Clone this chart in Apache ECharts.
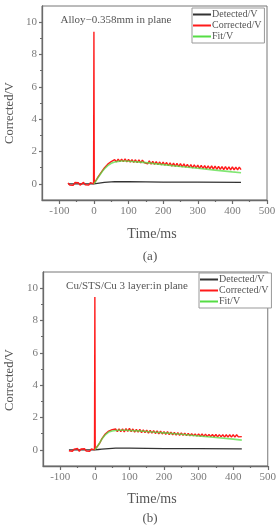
<!DOCTYPE html>
<html>
<head>
    <meta charset="utf-8">
    <title>corrected</title>
    <style>
        html, body { margin: 0; padding: 0; background: #fff; }
    </style>
</head>
<body>
<!-- chart box -->
<div id="main" style="width: 279px;height:527px;"></div>

<script src="https://cdn.jsdelivr.net/npm/echarts@6/dist/echarts.min.js"></script>

<script type="text/javascript">
// ---- data ----
var seriesNames = ['Detected/V', 'Corrected/V', 'Fit/V'];
var xTickValues = [-100, 0, 100, 200, 300, 400, 500];
var xMinorValues = [-50, 50, 150, 250, 350, 450];
var yTickValues = [0, 2, 4, 6, 8, 10];
var yMinorValues = [1, 3, 5, 7, 9];

// corrected signal time (ms)
var corrTime = [-75, -70, -65, -60, -55, -50, -45, -40, -35, -30, -25, -20, -15, -10, -5, -1, 0, 1,
    5, 10, 15, 20, 25, 30, 35, 40, 45, 50,
    55, 60, 65, 70, 75, 80, 85, 90, 95, 100,
    105, 110, 115, 120, 125, 130, 135, 140, 145, 150,
    155, 160, 165, 170, 175, 180, 185, 190, 195, 200,
    205, 210, 215, 220, 225, 230, 235, 240, 245, 250,
    255, 260, 265, 270, 275, 280, 285, 290, 295, 300,
    305, 310, 315, 320, 325, 330, 335, 340, 345, 350,
    355, 360, 365, 370, 375, 380, 385, 390, 395, 400,
    405, 410, 415, 420, 425];

// (a) Alloy
var correctedA = [0.06, -0.07, 0.04, -0.09, 0.08, -0.03, 0.07, -0.08, 0.02, 0.09, -0.06, 0.05, -0.08, 0.07, -0.04, 0.00, 9.40, 0.05,
    0.14, 0.36, 0.40, 0.68, 0.72, 0.98, 1.00, 1.22, 1.18, 1.38,
    1.30, 1.50, 1.36, 1.53, 1.38, 1.52, 1.37, 1.54, 1.36, 1.51,
    1.35, 1.50, 1.33, 1.49, 1.31, 1.48, 1.30, 1.47, 1.32, 1.44,
    1.24, 1.42, 1.22, 1.39, 1.20, 1.37, 1.19, 1.35, 1.17, 1.34,
    1.15, 1.32, 1.12, 1.30, 1.10, 1.28, 1.08, 1.27, 1.06, 1.25,
    1.05, 1.23, 1.03, 1.21, 1.01, 1.19, 0.99, 1.18, 0.98, 1.16,
    0.96, 1.14, 0.95, 1.13, 0.93, 1.12, 0.92, 1.11, 0.91, 1.10,
    0.90, 1.08, 0.89, 1.07, 0.88, 1.06, 0.88, 1.05, 0.87, 1.05,
    0.86, 1.04, 0.87, 1.03, 0.88];

// (b) Cu/STS/Cu
var correctedB = [-0.06, 0.05, -0.09, 0.04, -0.07, 0.08, -0.10, 0.05, -0.06, 0.07, -0.08, 0.03, -0.09, 0.06, -0.05, 0.00, 9.45, 0.04,
    0.12, 0.30, 0.45, 0.68, 0.80, 0.98, 1.03, 1.16, 1.12, 1.25,
    1.13, 1.29, 1.12, 1.30, 1.13, 1.29, 1.11, 1.31, 1.14, 1.33,
    1.12, 1.29, 1.10, 1.27, 1.09, 1.26, 1.07, 1.24, 1.06, 1.22,
    1.04, 1.21, 1.03, 1.19, 1.01, 1.17, 0.99, 1.15, 0.98, 1.13,
    0.96, 1.12, 0.94, 1.10, 0.93, 1.08, 0.91, 1.06, 0.90, 1.05,
    0.89, 1.03, 0.88, 1.02, 0.87, 1.00, 0.86, 0.99, 0.85, 0.98,
    0.84, 0.98, 0.83, 0.97, 0.82, 0.96, 0.82, 0.95, 0.81, 0.95,
    0.80, 0.94, 0.80, 0.94, 0.79, 0.93, 0.79, 0.93, 0.79, 0.93,
    0.79, 0.93, 0.80, 0.92, 0.82];

// fit curves
var fitTime = [0, 5, 10, 15, 20, 25, 30, 35, 40, 45, 50, 60, 70, 80, 90, 100, 125, 150, 175, 200, 250, 300, 350, 400, 425];
var fitA = [0, 0.15, 0.32, 0.48, 0.64, 0.79, 0.92, 1.03, 1.13, 1.21, 1.27, 1.35, 1.39, 1.41, 1.41, 1.40, 1.36, 1.31, 1.25, 1.19, 1.07, 0.96, 0.85, 0.74, 0.69];
var fitB = [0, 0.14, 0.30, 0.48, 0.65, 0.80, 0.93, 1.03, 1.10, 1.14, 1.17, 1.20, 1.21, 1.21, 1.21, 1.20, 1.17, 1.13, 1.09, 1.05, 0.96, 0.86, 0.76, 0.66, 0.60];

// detected signal
var detTime = [-75, 0, 10, 20, 30, 40, 50, 60, 80, 100, 150, 200, 300, 425];
var detA = [0, 0, 0.03, 0.06, 0.09, 0.11, 0.12, 0.13, 0.13, 0.13, 0.12, 0.11, 0.10, 0.09];
var detB = [0, 0, 0.02, 0.04, 0.06, 0.08, 0.09, 0.10, 0.10, 0.10, 0.09, 0.08, 0.07, 0.06];

// ---- helpers ----
var FONT = '"Liberation Serif", "DejaVu Serif", serif';
var AXIS_COLOR = '#6a6a6a';
var LABEL_COLOR = '#7a7a7a';

function pairs(xs, ys) {
    return xs.map(function (x, i) { return [x, ys[i]]; });
}

// main x axis + minor tick axis
function xAxes(gi) {
    return [{
        type: 'value', gridIndex: gi, min: -150, max: 500, position: 'bottom',
        axisLine: { show: true, onZero: false, lineStyle: { color: AXIS_COLOR, width: 1.3 } },
        axisTick: { show: true, customValues: xTickValues, length: 4, lineStyle: { color: AXIS_COLOR, width: 1.2 } },
        axisLabel: { customValues: xTickValues, color: LABEL_COLOR, fontFamily: FONT, fontSize: 11, margin: 6 },
        splitLine: { show: false }
    }, {
        type: 'value', gridIndex: gi, min: -150, max: 500, position: 'bottom',
        axisLine: { show: false, onZero: false },
        axisTick: { show: true, customValues: xMinorValues, length: 2, lineStyle: { color: AXIS_COLOR, width: 1.2 } },
        axisLabel: { show: false },
        splitLine: { show: false }
    }];
}

function yAxes(gi) {
    return [{
        type: 'value', gridIndex: gi, min: -1, max: 11, position: 'left',
        axisLine: { show: true, onZero: false, lineStyle: { color: AXIS_COLOR, width: 1.3 } },
        axisTick: { show: true, customValues: yTickValues, length: 3, lineStyle: { color: AXIS_COLOR, width: 1.2 } },
        axisLabel: { customValues: yTickValues, color: LABEL_COLOR, fontFamily: FONT, fontSize: 11, margin: 5 },
        splitLine: { show: false }
    }, {
        type: 'value', gridIndex: gi, min: -1, max: 11, position: 'left',
        axisLine: { show: false, onZero: false },
        axisTick: { show: true, customValues: yMinorValues, length: 2, lineStyle: { color: AXIS_COLOR, width: 1.2 } },
        axisLabel: { show: false },
        splitLine: { show: false }
    }];
}

function makeSeries(axisIdx, det, corr, fit) {
    var base = { type: 'line', xAxisIndex: axisIdx, yAxisIndex: axisIdx, showSymbol: false, symbol: 'none', animation: false };
    return [
        Object.assign({}, base, { name: seriesNames[0], data: pairs(detTime, det), color: '#333333', lineStyle: { width: 1.3 } }),
        Object.assign({}, base, { name: seriesNames[1], data: pairs(corrTime, corr), color: '#ff1a1a', lineStyle: { width: 1.4 } }),
        Object.assign({}, base, { name: seriesNames[2], data: pairs(fitTime, fit), color: '#55dd44', lineStyle: { width: 1.6, opacity: 0.75 } })
    ];
}

function legendAt(left, top) {
    return {
        left: left, top: top, orient: 'vertical', data: seriesNames,
        icon: 'rect', itemWidth: 18, itemHeight: 2, itemGap: 0,
        selectedMode: false,
        backgroundColor: '#fff', borderColor: '#999', borderWidth: 1,
        padding: [1, 3, 1, 1],
        textStyle: { fontFamily: FONT, fontSize: 10, lineHeight: 11, color: '#555', padding: [0, 0, 0, -4] }
    };
}

function txt(x, y, s, size, rot) {
    return {
        type: 'text', x: x, y: y, rotation: rot || 0,
        style: { text: s, fontFamily: FONT, fontSize: size, fill: '#555', align: 'center', verticalAlign: 'middle' }
    };
}

var myChart = echarts.init(document.getElementById('main'));

var option = {
    animation: false,
    grid: [
        { left: 42, top: 6, width: 225, height: 194, show: true, borderColor: '#777', borderWidth: 1 },
        { left: 43, top: 272, width: 227, height: 194, show: true, borderColor: '#777', borderWidth: 1 }
    ],
    xAxis: xAxes(0).concat(xAxes(1)),
    yAxis: yAxes(0).concat(yAxes(1)),
    legend: [legendAt(192, 8), legendAt(199, 273)],
    series: makeSeries(0, detA, correctedA, fitA).concat(makeSeries(2, detB, correctedB, fitB)),
    graphic: [
        txt(116, 20, 'Alloy\u22120.358mm in plane', 11),
        txt(10, 113, 'Corrected/V', 12.5, Math.PI / 2),
        txt(152, 234, 'Time/ms', 14),
        txt(150, 257, '(a)', 13),
        txt(127, 286, 'Cu/STS/Cu 3 layer:in plane', 11),
        txt(10, 380, 'Corrected/V', 12.5, Math.PI / 2),
        txt(152, 499, 'Time/ms', 14),
        txt(150, 519, '(b)', 13)
    ]
};

myChart.setOption(option);
</script>
</body>
</html>
